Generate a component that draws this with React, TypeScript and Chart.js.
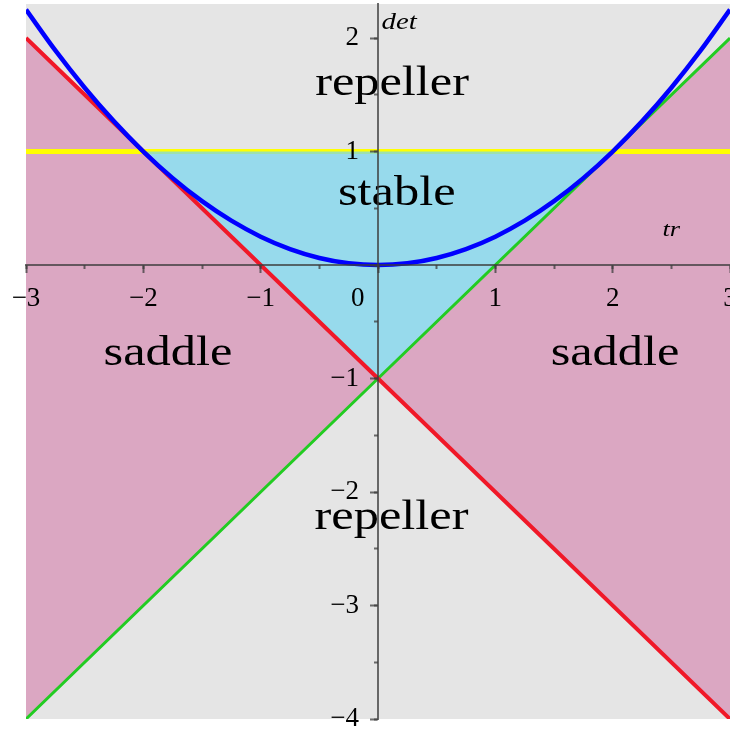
import React, { useEffect, useRef } from 'react';
import { Chart, registerables } from 'chart.js';

Chart.register(...registerables);

// trace (tr) and determinant (det) values of the boundary lines
const TR_LINE = [-3, 0, 3];
const DET_RED = [2, -1, -4];
const DET_GREEN = [-4, -1, 2];
const TR_YELLOW = [-3, 3];
const DET_YELLOW = [1, 1];
const TR_STABLE = [-2, 0, 2];
const DET_STABLE = [1, -1, 1];
const TR_PARABOLA = [
  -3, -2.75, -2.5, -2.25, -2, -1.75, -1.5, -1.25, -1, -0.75, -0.5, -0.25, 0,
  0.25, 0.5, 0.75, 1, 1.25, 1.5, 1.75, 2, 2.25, 2.5, 2.75, 3,
];
const DET_PARABOLA = [
  2.25, 1.890625, 1.5625, 1.265625, 1, 0.765625, 0.5625, 0.390625, 0.25, 0.140625, 0.0625, 0.015625, 0,
  0.015625, 0.0625, 0.140625, 0.25, 0.390625, 0.5625, 0.765625, 1, 1.265625, 1.5625, 1.890625, 2.25,
];

// region labels
const REGION_NAMES = ['repeller', 'stable', 'saddle', 'saddle', 'repeller'];
const REGION_TR = [0.12, 0.16, -1.79, 2.02, 0.115];
const REGION_DET = [1.5, 0.53, -0.88, -0.88, -2.33];

// axis names
const AXIS_NAMES = ['det', 'tr'];
const AXIS_NAME_TR = [0.03, 2.5];
const AXIS_NAME_DET = [2.08, 0.26];

const X_MIN = -3;
const X_MAX = 3;
const Y_MIN = -4;
const Y_MAX = 2.3;

const GRAY = '#e5e5e5';
const PINK = '#dba7c2';
const CYAN = 'rgba(120, 214, 238, 0.72)';
const AXIS_COLOR = 'rgba(60, 60, 60, 0.75)';
const SERIF = '"Liberation Serif", "Times New Roman", serif';

const pts = (xs: number[], ys: number[]) => xs.map((x, i) => ({ x, y: ys[i] }));

const fmt = (v: number) => {
  if (v === 0) return '0\u2002\u2002\u2002';
  return v < 0 ? '\u2212' + Math.abs(v) : String(v);
};

const noPad = (scale: any) => {
  scale.paddingLeft = 0;
  scale.paddingRight = 0;
  scale.paddingTop = 0;
  scale.paddingBottom = 0;
};

const bgPlugin = {
  id: 'plotBackground',
  beforeDraw(chart: any) {
    const { ctx, chartArea } = chart;
    ctx.save();
    ctx.fillStyle = GRAY;
    ctx.fillRect(chartArea.left, chartArea.top, chartArea.right - chartArea.left, chartArea.bottom - chartArea.top);
    ctx.restore();
  },
};

const labelPlugin = {
  id: 'regionLabels',
  afterDatasetsDraw(chart: any) {
    const { ctx } = chart;
    const sx = chart.scales.x;
    const sy = chart.scales.y;
    ctx.save();
    ctx.fillStyle = '#000';
    ctx.textBaseline = 'alphabetic';
    ctx.font = `42px ${SERIF}`;
    ctx.textAlign = 'center';
    REGION_NAMES.forEach((t, i) => {
      ctx.save();
      ctx.translate(sx.getPixelForValue(REGION_TR[i]), sy.getPixelForValue(REGION_DET[i]));
      ctx.scale(1.2, 1);
      ctx.fillText(t, 0, 0);
      ctx.restore();
    });
    AXIS_NAMES.forEach((t, i) => {
      ctx.save();
      ctx.font = `italic ${i === 0 ? 24 : 22}px ${SERIF}`;
      ctx.textAlign = i === 0 ? 'left' : 'center';
      ctx.translate(sx.getPixelForValue(AXIS_NAME_TR[i]), sy.getPixelForValue(AXIS_NAME_DET[i]));
      ctx.scale(1.2, 1);
      ctx.fillText(t, 0, 0);
      ctx.restore();
    });
    ctx.restore();
  },
};

const line = (data: any[], color: string, width: number, order: number, extra: any = {}) => ({
  data,
  borderColor: color,
  borderWidth: width,
  pointRadius: 0,
  tension: 0,
  fill: false,
  order,
  ...extra,
});

export default function App() {
  const ref = useRef<HTMLCanvasElement>(null);

  useEffect(() => {
    if (!ref.current) return;
    const tickFont = { family: SERIF, size: 27 };
    const chart = new Chart(ref.current, {
      type: 'line',
      data: {
        datasets: [
          // saddle fill between red and green lines
          line(pts(TR_LINE, DET_RED), 'rgba(0,0,0,0)', 0, 10, {
            fill: { target: 1, above: PINK, below: PINK },
          }),
          line(pts(TR_LINE, DET_GREEN), 'rgba(0,0,0,0)', 0, 9),
          // det = 1
          line(pts(TR_YELLOW, DET_YELLOW), '#ffff00', 5, 8),
          // stable region
          line(pts(TR_STABLE, DET_STABLE), 'rgba(0,0,0,0)', 0, 7, {
            fill: { value: 1 },
            backgroundColor: CYAN,
          }),
          // det = tr - 1
          line(pts(TR_LINE, DET_GREEN), '#22cc22', 3, 6),
          // det = -tr - 1
          line(pts(TR_LINE, DET_RED), '#f01828', 4, 5),
          // det = tr^2 / 4
          line(pts(TR_PARABOLA, DET_PARABOLA), '#0000ff', 4.5, 4, {
            cubicInterpolationMode: 'monotone',
          }),
        ],
      },
      options: {
        responsive: false,
        animation: false,
        devicePixelRatio: 1,
        events: [],
        layout: { padding: { left: 26, right: -3, top: 4, bottom: 13 } },
        plugins: { legend: { display: false }, tooltip: { enabled: false } },
        scales: {
          x: {
            type: 'linear',
            min: X_MIN,
            max: X_MAX,
            position: { y: 0 },
            z: 1,
            afterFit: noPad,
            border: { display: true, color: AXIS_COLOR, width: 2, z: 1 },
            grid: { drawOnChartArea: false, drawTicks: true, tickLength: 7, tickColor: AXIS_COLOR, tickWidth: 2, z: 1 },
            ticks: {
              stepSize: 1,
              includeBounds: false,
              autoSkip: false,
              maxRotation: 0,
              padding: 11,
              color: '#000',
              font: tickFont,
              callback: (v: any) => fmt(Number(v)),
              z: 1,
            },
          },
          x2: {
            type: 'linear',
            axis: 'x',
            min: X_MIN,
            max: X_MAX,
            position: { y: 0 },
            z: 1,
            afterFit: noPad,
            border: { display: false },
            grid: { drawOnChartArea: false, drawTicks: true, tickLength: 4, tickColor: AXIS_COLOR, tickWidth: 2, z: 1 },
            ticks: { stepSize: 0.5, includeBounds: false, autoSkip: false, callback: () => '', z: 1 },
          },
          y: {
            type: 'linear',
            min: Y_MIN,
            max: Y_MAX,
            position: { x: 0 },
            z: 1,
            afterFit: noPad,
            border: { display: true, color: AXIS_COLOR, width: 2, z: 1 },
            grid: { drawOnChartArea: false, drawTicks: true, tickLength: 7, tickColor: AXIS_COLOR, tickWidth: 2, z: 1 },
            ticks: {
              stepSize: 1,
              includeBounds: false,
              autoSkip: false,
              padding: 8,
              color: '#000',
              font: tickFont,
              callback: (v: any) => (Number(v) === 0 ? '' : fmt(Number(v)) + '\u2002\u2009'),
              z: 1,
            },
          },
          y2: {
            type: 'linear',
            axis: 'y',
            min: Y_MIN,
            max: Y_MAX,
            position: { x: 0 },
            z: 1,
            afterFit: noPad,
            border: { display: false },
            grid: { drawOnChartArea: false, drawTicks: true, tickLength: 4, tickColor: AXIS_COLOR, tickWidth: 2, z: 1 },
            ticks: { stepSize: 0.5, includeBounds: false, autoSkip: false, callback: () => '', z: 1 },
          },
        },
      },
      plugins: [bgPlugin, labelPlugin],
    } as any);
    return () => chart.destroy();
  }, []);

  return (
    <div style={{ position: 'fixed', left: 0, top: 0, width: 730, height: 732, background: '#fff' }}>
      <canvas ref={ref} width={730} height={732} style={{ display: 'block', width: 730, height: 732 }} />
    </div>
  );
}
